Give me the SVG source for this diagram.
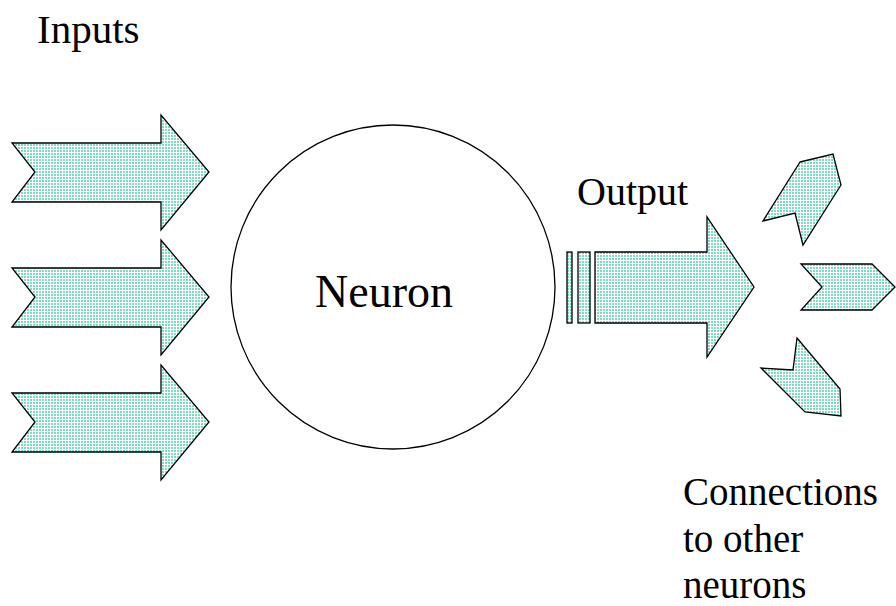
<svg xmlns="http://www.w3.org/2000/svg" width="896" height="606" viewBox="0 0 896 606">
  <defs>
    <!-- fine dotted teal fill used by all arrow shapes -->
    <pattern id="dots" width="3" height="3" patternUnits="userSpaceOnUse">
      <rect width="3" height="3" fill="#ffffff"/>
      <rect x="0" y="0" width="2" height="2" fill="#7fdcc2"/>
    </pattern>
  </defs>
  <style>
    .shape { fill: url(#dots); stroke: #000; stroke-width: 1.3; stroke-linejoin: miter; }
    text { fill: #000; }
  </style>
  <rect width="896" height="606" fill="#ffffff"/>

  <g id="label-inputs"><text font-family="Liberation Serif, DejaVu Serif, serif" x="37" y="43" font-size="41">Inputs</text></g>

  <g id="input-1"><polygon class="shape" points="12,143 161,143 161,115 209,172 161,230 161,202 12,202 35,172"/></g>
  <g id="input-2"><polygon class="shape" points="12,268 161,268 161,240 209,297 161,355 161,327 12,327 35,297"/></g>
  <g id="input-3"><polygon class="shape" points="12,393 161,393 161,365 209,422 161,480 161,452 12,452 35,422"/></g>

  <g id="neuron">
    <circle cx="393" cy="287" r="162" fill="#ffffff" stroke="#000" stroke-width="1.3"/>
    <text font-family="Liberation Serif, DejaVu Serif, serif" x="315" y="307" font-size="46">Neuron</text>
  </g>

  <g id="output">
    <text font-family="Liberation Serif, DejaVu Serif, serif" x="577" y="205" font-size="40">Output</text>
    <rect class="shape" x="567" y="252" width="5" height="71"/>
    <rect class="shape" x="578" y="252" width="12" height="71"/>
    <polygon class="shape" points="595,252 707,252 707,217 754,287 707,357 707,323 595,323"/>
  </g>

  <g id="connections">
    <polygon class="shape" points="800,162 833,154 841,185 803,245 795,213 763,221"/>
    <polygon class="shape" points="801,264 872,264 895,287 872,310 801,310 822,287"/>
    <polygon class="shape" points="797,338 840,389 841,416 805,412 761,368 793,370"/>
  </g>

  <g id="label-connections" font-family="Liberation Serif, DejaVu Serif, serif" font-size="39">
    <text x="683" y="505">Connections</text>
    <text x="683" y="552">to other</text>
    <text x="683" y="598">neurons</text>
  </g>
</svg>
